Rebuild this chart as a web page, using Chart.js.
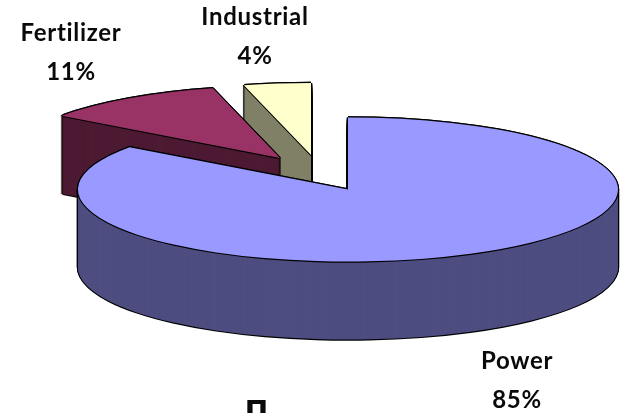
<!DOCTYPE html>
<html>
<head>
<meta charset="utf-8">
<style>html,body{margin:0;padding:0;background:#fff}canvas{display:block}</style>
<script src="https://cdn.jsdelivr.net/npm/chart.js@4"></script>
</head>
<body>
<canvas id="c" width="625" height="413" style="width:625px;height:413px"></canvas>
<script>
const categories = ['Power', 'Fertilizer', 'Industrial'];
const shares = [85, 11, 4];
const topColors = ['#9999ff', '#993366', '#ffffcc'];
const sideColors = ['#4d4d80', '#4d1a33', '#808066'];

// 3D presentation settings
const squash = 0.267, depth = 78, radius = 270;
const pieCentre = [348, 189.5];
const explodeX = [0, -68, -37], explodeY = [0, -31.5, -34.5];
const labelX = [517, 71, 255], labelY = [369, 41, 25];
const labelGap = 39;
const drawOrder = [2, 1, 0];

function paint(ctx, arc, color, sx, sy, i) {
  const saved = arc.options;
  arc.options = {backgroundColor: color, borderColor: color, borderWidth: 0, borderAlign: 'center',
    borderRadius: 0, offset: 0, spacing: 0, circular: true, borderJoinStyle: 'round'};
  ctx.save();
  ctx.translate(pieCentre[0] + explodeX[i] + sx, pieCentre[1] + explodeY[i] + sy);
  ctx.scale(1, squash);
  ctx.translate(-arc.x, -arc.y);
  arc.draw(ctx);
  ctx.restore();
  arc.options = saved;
}

const pie3d = {
  id: 'pie3d',
  beforeDatasetsDraw(chart) {
    const ctx = chart.ctx;
    const arcs = chart.getDatasetMeta(0).data;
    const ring = [[-1.2, 0], [1.2, 0], [0, -1.2], [0, 1.2]];
    drawOrder.forEach(i => {
      const arc = arcs[i];
      // black silhouette of wall + top
      for (const [ox, oy] of ring) {
        for (let d = depth; d >= 0; d -= 1) paint(ctx, arc, '#000', ox, d + oy, i);
      }
      // wall
      for (let d = depth; d >= 1; d -= 1) paint(ctx, arc, sideColors[i], 0, d, i);
      // outline between wall and top
      for (const [ox, oy] of ring) paint(ctx, arc, '#000', ox, oy, i);
      // top
      paint(ctx, arc, topColors[i], 0, 0, i);
    });
    return false;
  },
  afterDraw(chart) {
    const ctx = chart.ctx;
    ctx.save();
    ctx.fillStyle = '#0a0a0a';
    ctx.textAlign = 'center';
    ctx.textBaseline = 'alphabetic';
    ctx.font = 'bold 24px Lato';
    ctx.letterSpacing = '0.7px';
    categories.forEach((name, i) => {
      ctx.fillText(name, labelX[i], labelY[i]);
      ctx.fillText(shares[i] + '%', labelX[i], labelY[i] + labelGap);
    });
    ctx.letterSpacing = '0px';
    ctx.font = 'bold 28px "DejaVu Sans"';
    ctx.fillText('П', 256.5, 421);
    ctx.restore();
  }
};

new Chart(document.getElementById('c'), {
  type: 'pie',
  data: {
    labels: categories,
    datasets: [{data: shares, backgroundColor: topColors, borderWidth: 0}]
  },
  options: {
    responsive: false,
    animation: false,
    devicePixelRatio: 1,
    radius: radius,
    layout: {padding: 0},
    plugins: {legend: {display: false}, tooltip: {enabled: false}, title: {display: false}}
  },
  plugins: [pie3d]
});
</script>
</body>
</html>
